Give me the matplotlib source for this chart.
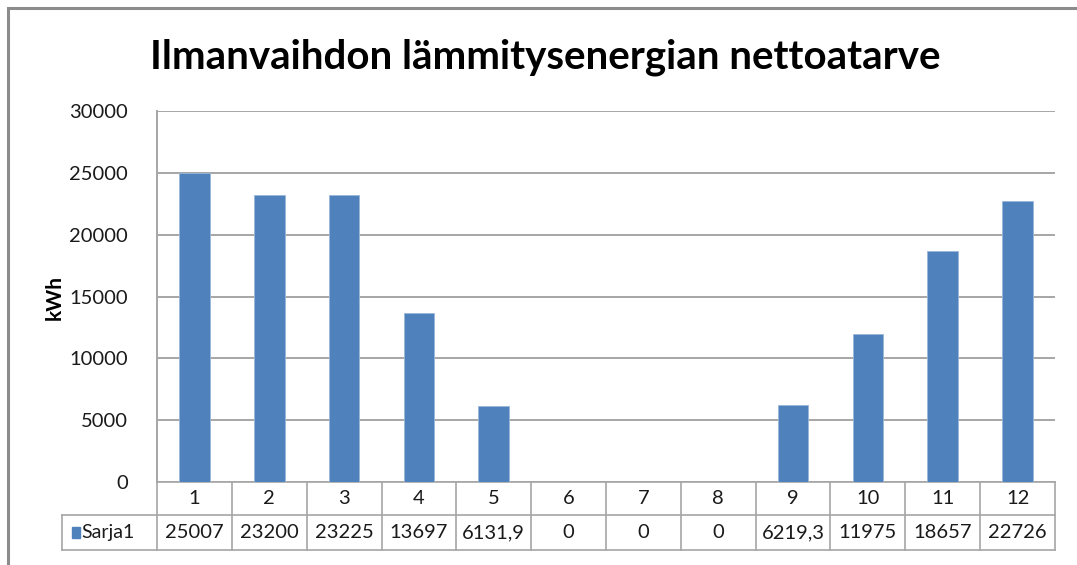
import matplotlib.pyplot as plt
from matplotlib.patches import Rectangle

months = ['1', '2', '3', '4', '5', '6', '7', '8', '9', '10', '11', '12']
values = [25007, 23200, 23225, 13697, 6131.9, 0, 0, 0, 6219.3, 11975, 18657, 22726]
value_labels = ['25007', '23200', '23225', '13697', '6131,9', '0', '0', '0',
                '6219,3', '11975', '18657', '22726']
series_name = 'Sarja1'
y_ticks = [0, 5000, 10000, 15000, 20000, 25000, 30000]

plt.rcParams['font.family'] = ['Lato', 'DejaVu Sans']
bar_color = '#4f81bd'
line_color = '#a6a6a6'
text_color = '#1a1a1a'
fs = 14.5

fig = plt.figure(figsize=(10.77, 5.65), dpi=100)
ax = fig.add_axes([157/1077, 1 - 482/565, 898/1077, 371/565])

# outer chart frame (only left and top edges visible in the crop)
fig.patches.append(Rectangle((8/1077, -0.05), 1.2, 1 - 8/565 + 0.05,
                             transform=fig.transFigure, fill=False,
                             edgecolor='#8c8c8c', linewidth=2.2))

x = list(range(len(months)))
ax.bar(x, values, width=0.41, color=bar_color, edgecolor='#9bb7d9',
       linewidth=0.6, zorder=3)

ax.set_xlim(-0.5, len(months) - 0.5)
ax.set_ylim(0, 30000)
ax.set_yticks(y_ticks)
ax.set_yticklabels([str(t) for t in y_ticks], fontsize=fs, color=text_color)
ax.tick_params(axis='y', length=0, pad=21)
ax.set_xticks([])
ax.grid(axis='y', color=line_color, linewidth=1.4, zorder=0)
for side in ['top', 'right', 'bottom']:
    ax.spines[side].set_visible(False)
ax.spines['left'].set_color(line_color)
ax.spines['left'].set_linewidth(1.4)

ax.set_ylabel('kWh', fontsize=15, fontweight='bold')
ax.yaxis.set_label_coords(-(157 - 65) / 898, (482 - 297) / 371)

fig.text(545/1077, 1 - 57/565, 'Ilmanvaihdon lämmitysenergian nettoatarve',
         ha='center', va='center', fontsize=29, fontweight='bold')

# data table below the plot
h = 371.0
r1 = -33 / h
r2 = -68 / h
legend_left = -0.5 - 95 / 898 * 12
tr = ax.get_xaxis_transform()
kw = dict(color=line_color, linewidth=1.2, clip_on=False, zorder=2, transform=tr)
ax.plot([-0.5, 11.5], [0, 0], **kw)
ax.plot([legend_left, 11.5], [r1, r1], **kw)
ax.plot([legend_left, 11.5], [r2, r2], **kw)
ax.plot([legend_left, legend_left], [r1, r2], **kw)
for i in range(len(months) + 1):
    ax.plot([i - 0.5, i - 0.5], [0, r2], **kw)

for i, m in enumerate(months):
    ax.text(i, r1 / 2, m, transform=tr, ha='center',
            va='center', fontsize=fs, color=text_color)
    ax.text(i, (r1 + r2) / 2, value_labels[i], transform=tr,
            ha='center', va='center', fontsize=fs, color=text_color)

ax.add_patch(Rectangle((legend_left + 0.135, (r1 + r2) / 2 - 0.014), 0.11, 0.028,
                       transform=tr, color=bar_color, clip_on=False))
ax.text(legend_left + 0.26, (r1 + r2) / 2, series_name, transform=tr,
        ha='left', va='center', fontsize=14, color=text_color)

fig.savefig('out.png', dpi=100)
